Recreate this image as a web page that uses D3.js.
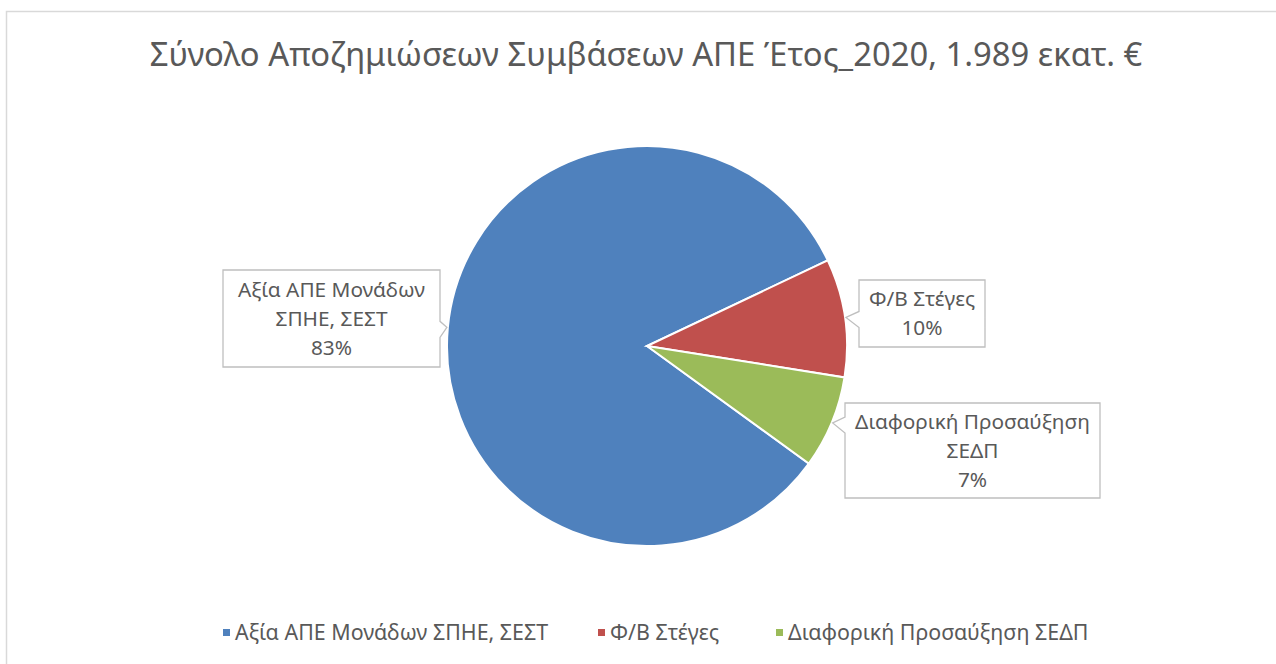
<!DOCTYPE html>
<html>
<head>
<meta charset="utf-8">
<script src="https://cdn.jsdelivr.net/npm/d3@7"></script>
<style>
  html, body { margin: 0; padding: 0; background: #fff; }
  svg { display: block; font-family: "Noto Sans", "Open Sans", sans-serif; }
</style>
</head>
<body>
<div id="chart"></div>
<script>
// data: εκατ. €, total 1.989
const categories = ["Αξία ΑΠΕ Μονάδων ΣΠΗΕ, ΣΕΣΤ", "Φ/Β Στέγες", "Διαφορική Προσαύξηση ΣΕΔΠ"];
const values = [1650, 190, 149];
const labelLines = [["Αξία ΑΠΕ Μονάδων", "ΣΠΗΕ, ΣΕΣΤ"], ["Φ/Β Στέγες"], ["Διαφορική Προσαύξηση", "ΣΕΔΠ"]];
const colors = ["#4f81bd", "#c0504d", "#9bbb59"];
const titleText = "Σύνολο Αποζημιώσεων Συμβάσεων ΑΠΕ Έτος_2020, 1.989 εκατ. €";

const width = 1276, height = 664;
const cx = 647, cy = 346, radius = 200;
const textColor = "#595959";
const labelSize = 20.8;

// label box layout (centre + size), one per slice
const boxes = [
  { x: 331.5, y: 318.5, w: 217, h: 97 },
  { x: 922, y: 313.5, w: 126, h: 67 },
  { x: 972.5, y: 450.5, w: 255, h: 95 }
];
// legend item left edges
const legendX = [223, 598, 776];

const svg = d3.select("#chart").append("svg")
  .attr("width", width)
  .attr("height", height);

// chart area border
svg.append("rect")
  .attr("x", 6.5).attr("y", 11.5)
  .attr("width", width).attr("height", height)
  .attr("fill", "#fff")
  .attr("stroke", "#d9d9d9")
  .attr("stroke-width", 1.5);

// title, fitted to the original width
const title = svg.append("text")
  .attr("x", 646).attr("y", 66)
  .attr("text-anchor", "middle")
  .attr("fill", textColor)
  .style("font-size", "28px")
  .text(titleText);
const tw = title.node().getComputedTextLength();
title.style("font-size", (28 * 993 / tw) + "px");

const total = d3.sum(values);
const pct = d3.format(".0%");
const data = categories.map((c, i) => ({ name: c, value: values[i], color: colors[i], lines: labelLines[i] }));

const pie = d3.pie()
  .sort(null)
  .value(d => d.value)
  .startAngle(126 * Math.PI / 180)
  .endAngle(126 * Math.PI / 180 + 2 * Math.PI);

const arc = d3.arc().innerRadius(0).outerRadius(radius);
const arcs = pie(data);

const g = svg.append("g").attr("transform", `translate(${cx},${cy})`);
g.selectAll("path")
  .data(arcs)
  .join("path")
  .attr("d", arc)
  .attr("fill", d => d.data.color)
  .attr("stroke", "#fff")
  .attr("stroke-width", 2);

// callout labels
arcs.forEach((a, i) => {
  const b = boxes[i];
  const mid = (a.startAngle + a.endAngle) / 2;
  const tx = cx + (radius + 1) * Math.sin(mid);
  const ty = cy - (radius + 1) * Math.cos(mid);
  const x0 = b.x - b.w / 2, x1 = b.x + b.w / 2;
  const y0 = b.y - b.h / 2, y1 = b.y + b.h / 2;
  const n0 = ty - 6, n1 = ty + 10;
  let p;
  if (tx > x1) {
    p = [[x0, y0], [x1, y0], [x1, n0], [tx, ty], [x1, n1], [x1, y1], [x0, y1]];
  } else {
    p = [[x0, y0], [x1, y0], [x1, y1], [x0, y1], [x0, n1], [tx, ty], [x0, n0]];
  }
  svg.append("path")
    .attr("d", d3.line()(p) + "Z")
    .attr("fill", "#fff")
    .attr("stroke", "#bfbfbf")
    .attr("stroke-width", 1.3);

  const lines = a.data.lines.concat([pct(a.data.value / total)]);
  const lh = 29;
  const t = svg.append("text")
    .attr("text-anchor", "middle")
    .attr("fill", textColor)
    .style("font-size", labelSize + "px");
  lines.forEach((l, k) => {
    t.append("tspan")
      .attr("x", b.x)
      .attr("y", b.y + (k - (lines.length - 1) / 2) * lh + 7)
      .text(l);
  });
});

// legend
const legend = svg.append("g").attr("transform", "translate(0,633)");
const items = legend.selectAll("g")
  .data(data)
  .join("g")
  .attr("transform", (d, i) => `translate(${legendX[i]},0)`);
items.append("rect")
  .attr("y", -4).attr("width", 7).attr("height", 7)
  .attr("fill", d => d.color);
items.append("text")
  .attr("x", 12).attr("y", 7)
  .attr("fill", textColor)
  .style("font-size", (labelSize + 0.6) + "px")
  .text(d => d.name);
</script>
</body>
</html>
